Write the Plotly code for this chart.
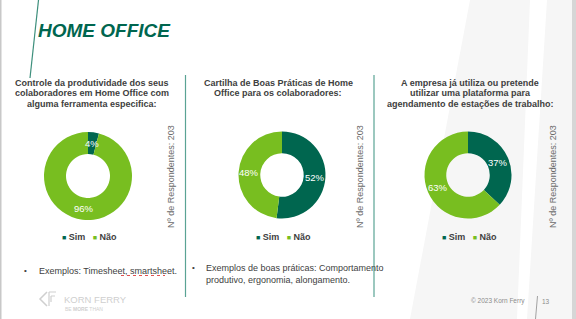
import math
import plotly.graph_objects as go

W, H = 576, 319

labels = ["Sim", "Não"]
colors = ["#00664f", "#78be20"]

titles = [
    ["Controle da produtividade dos seus", "colaboradores em Home Office com", "alguma ferramenta especifica:"],
    ["Cartilha de Boas Práticas de Home", "Office para os colaboradores:"],
    ["A empresa já utiliza ou pretende", "utilizar uma plataforma para", "agendamento de estações de trabalho:"],
]
values = [
    [4, 96],
    [52, 48],
    [37, 63],
]
respondents = [203, 203, 203]

bullets = [
    ["Exemplos: Timesheet, smartsheet."],
    ["Exemplos de boas práticas: Comportamento", "produtivo, ergonomia, alongamento."],
    [],
]

# layout geometry (pixels)
HOLE = 0.5
centers = [(88, 176, 44), (282, 175, 43.5), (468, 175, 43.5)]
title_cx = [92, 278, 470]
resp_x = [171, 360, 553]
sep_x = [185.5, 374]


def px(x):
    return x / W


def py(y):
    return 1 - y / H


fig = go.Figure()
annotations = []
shapes = []

for i in range(3):
    cx, cy, r = centers[i]
    fig.add_trace(go.Pie(
        labels=labels,
        values=values[i],
        hole=HOLE,
        sort=False,
        direction="clockwise",
        rotation=0,
        marker=dict(colors=colors, line=dict(width=0)),
        textinfo="none",
        hoverinfo="skip",
        showlegend=False,
        domain=dict(x=[px(cx - r), px(cx + r)], y=[py(cy + r), py(cy - r)]),
    ))
    # slice labels placed at the middle of each ring segment (derived from the values)
    total = sum(values[i])
    cum = 0
    rm = r * (1 + HOLE) / 2
    for v in values[i]:
        mid = (cum + v / 2) / total * 2 * math.pi
        cum += v
        lx = cx + rm * math.sin(mid)
        ly = cy - rm * math.cos(mid)
        annotations.append(dict(text=f"{v}%", x=px(lx), y=py(ly), xref="paper", yref="paper",
                                xanchor="center", yanchor="middle", showarrow=False,
                                font=dict(family="Liberation Sans, Arial", size=9.5, color="white")))

# background decorations
shapes.append(dict(type="path", xref="paper", yref="paper",
                   path=f"M {px(470)},{py(0)} L {px(530)},{py(0)} L {px(517)},{py(H)} L {px(410)},{py(H)} Z",
                   fillcolor="#f6f6f6", line=dict(width=0), layer="below"))
shapes.append(dict(type="path", xref="paper", yref="paper",
                   path=f"M {px(547)},{py(0)} L {px(572)},{py(0)} L {px(572)},{py(H)} L {px(527)},{py(H)} Z",
                   fillcolor="#f6f6f6", line=dict(width=0), layer="below"))
shapes.append(dict(type="rect", xref="paper", yref="paper",
                   x0=px(572), x1=1, y0=0, y1=1, fillcolor="#d6d6d6", line=dict(width=0), layer="below"))
shapes.append(dict(type="rect", xref="paper", yref="paper",
                   x0=0, x1=px(1.5), y0=0, y1=1, fillcolor="#c8c8c8", line=dict(width=0), layer="below"))

# title slash
shapes.append(dict(type="line", xref="paper", yref="paper",
                   x0=px(38.5), y0=py(0), x1=px(30), y1=py(78),
                   line=dict(color="#3d8f7c", width=1.2)))
annotations.append(dict(text="<b><i>HOME OFFICE</i></b>", x=px(36), y=py(30), xref="paper", yref="paper",
                        xanchor="left", yanchor="middle", showarrow=False,
                        font=dict(family="Liberation Sans, Arial", size=19, color="#00664f")))

# separators
for sx in sep_x:
    shapes.append(dict(type="line", xref="paper", yref="paper",
                       x0=px(sx), x1=px(sx), y0=py(75), y1=py(297),
                       line=dict(color="#5aa394", width=1.2)))

font_t = dict(family="Liberation Sans, Arial", size=9, color="#404040")
for i in range(3):
    for j, line in enumerate(titles[i]):
        annotations.append(dict(text=f"<b>{line}</b>", x=px(title_cx[i]), y=py(83 + j * 10.3),
                                xref="paper", yref="paper", xanchor="center", yanchor="middle",
                                showarrow=False, font=font_t))
    annotations.append(dict(text=f"Nº de Respondentes: {respondents[i]}", x=px(resp_x[i]), y=py(177),
                            xref="paper", yref="paper", xanchor="center", yanchor="middle",
                            textangle=-90, showarrow=False,
                            font=dict(family="Liberation Sans, Arial", size=9, color="#6a6a6a")))
    cx = centers[i][0]
    leg = (f"<span style='color:{colors[0]};font-size:7px'>■</span><b> {labels[0]}   </b>"
           f"<span style='color:{colors[1]};font-size:7px'>■</span><b> {labels[1]}</b>")
    annotations.append(dict(text=leg, x=px(cx + 1), y=py(236.5), xref="paper", yref="paper",
                            xanchor="center", yanchor="middle", showarrow=False,
                            font=dict(family="Liberation Sans, Arial", size=9, color="#404040")))

# bullets
bullet_pos = [(25, 37, 270.5), (193, 204, 267.5)]
for i, blines in enumerate(bullets):
    if not blines:
        continue
    bx, tx, by = bullet_pos[i]
    annotations.append(dict(text="•", x=px(bx), y=py(by), xref="paper", yref="paper",
                            xanchor="center", yanchor="middle", showarrow=False,
                            font=dict(family="Liberation Sans, Arial", size=8, color="#404040")))
    for j, line in enumerate(blines):
        annotations.append(dict(text=line, x=px(tx), y=py(by + j * 12.5), xref="paper", yref="paper",
                                xanchor="left", yanchor="middle", showarrow=False,
                                font=dict(family="Liberation Sans, Arial", size=9, color="#404040")))

# spell-check underline under "smartsheet"
shapes.append(dict(type="line", xref="paper", yref="paper",
                   x0=px(121), x1=px(165), y0=py(275.5), y1=py(275.5),
                   line=dict(color="#e05050", width=1, dash="dot")))

# Korn Ferry logo (faint)
logo_c = "#cfcfcf"
shapes.append(dict(type="path", xref="paper", yref="paper",
                   path=f"M {px(47)},{py(292)} L {px(40)},{py(299)} L {px(47)},{py(306)}",
                   line=dict(color=logo_c, width=1.5)))
shapes.append(dict(type="path", xref="paper", yref="paper",
                   path=f"M {px(49)},{py(292)} L {px(56)},{py(292)} M {px(49)},{py(292)} L {px(49)},{py(306)} M {px(51)},{py(296)} L {px(55)},{py(296)} M {px(51)},{py(296)} L {px(51)},{py(302)}",
                   line=dict(color=logo_c, width=1.2)))
annotations.append(dict(text="KORN FERRY", x=px(62), y=py(299), xref="paper", yref="paper",
                        xanchor="left", yanchor="middle", showarrow=False,
                        font=dict(family="Liberation Sans, Arial", size=9.5, color=logo_c)))
annotations.append(dict(text="BE <b>MORE</b> THAN", x=px(63), y=py(309), xref="paper", yref="paper",
                        xanchor="left", yanchor="middle", showarrow=False,
                        font=dict(family="Liberation Sans, Arial", size=5, color=logo_c)))

# footer
annotations.append(dict(text="© 2023 Korn Ferry", x=px(527), y=py(301), xref="paper", yref="paper",
                        xanchor="right", yanchor="middle", showarrow=False,
                        font=dict(family="Liberation Sans, Arial", size=6.5, color="#8c8c8c")))
annotations.append(dict(text="13", x=px(540), y=py(301), xref="paper", yref="paper",
                        xanchor="left", yanchor="middle", showarrow=False,
                        font=dict(family="Liberation Sans, Arial", size=6.5, color="#8c8c8c")))
shapes.append(dict(type="line", xref="paper", yref="paper",
                   x0=px(537.5), y0=py(296), x1=px(535.5), y1=py(319),
                   line=dict(color="#8c8c8c", width=0.8)))

fig.update_layout(
    width=W, height=H,
    margin=dict(l=0, r=0, t=0, b=0),
    paper_bgcolor="white",
    plot_bgcolor="white",
    annotations=annotations,
    shapes=shapes,
)

fig.write_html("out.html")
